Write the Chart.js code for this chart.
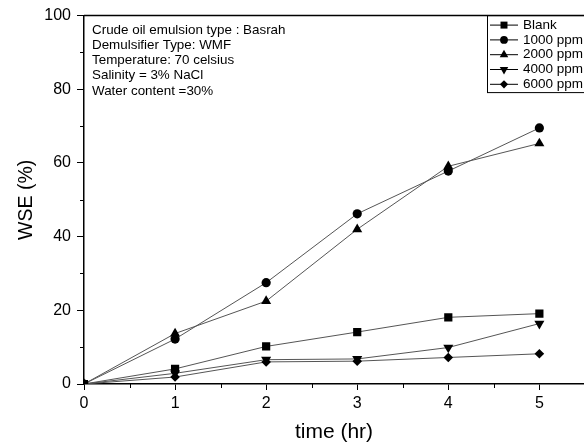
<!DOCTYPE html>
<html>
<head>
<meta charset="utf-8">
<script src="https://cdn.jsdelivr.net/npm/chart.js@4"></script>
<style>
  body { margin: 0; background: #fff; }
  #wrap { width: 584px; height: 443px; }
</style>
</head>
<body>
<div id="wrap"><canvas id="wseChart"></canvas></div>
<script>
// data
var times = [0, 1, 2, 3, 4, 5];
var blank = [0, 4.1, 10.2, 14.1, 18.1, 19.1];
var ppm1000 = [0, 12.2, 27.5, 46.2, 57.8, 69.5];
var ppm2000 = [0, 13.7, 22.5, 42.0, 59.1, 65.3];
var ppm4000 = [0, 2.9, 6.6, 6.8, 9.9, 16.4];
var ppm6000 = [0, 1.9, 6.0, 6.2, 7.2, 8.2];
var xTicks = [0, 1, 2, 3, 4, 5];
var yTicks = [0, 20, 40, 60, 80, 100];
var seriesNames = ['Blank', '1000 ppm', '2000 ppm', '4000 ppm', '6000 ppm'];
var notes = [
  'Crude oil emulsion type : Basrah',
  'Demulsifier Type: WMF',
  'Temperature: 70 celsius',
  'Salinity = 3% NaCl',
  'Water content =30%'
];

var font = "'Liberation Sans', Arial, sans-serif";

function pts(vals) {
  return vals.map(function (v, i) { return { x: times[i], y: v }; });
}

var markers = [
  { style: 'rect', radius: 5.8, rotation: 0 },
  { style: 'circle', radius: 4.6, rotation: 0 },
  { style: 'triangle', radius: 5.8, rotation: 0 },
  { style: 'triangle', radius: 5.8, rotation: 180 },
  { style: 'rectRot', radius: 4.8, rotation: 0 }
];
var allVals = [blank, ppm1000, ppm2000, ppm4000, ppm6000];

var datasets = allVals.map(function (vals, i) {
  return {
    label: seriesNames[i],
    data: pts(vals),
    borderColor: '#555',
    borderWidth: 1,
    backgroundColor: '#000',
    pointBackgroundColor: '#000',
    pointBorderColor: '#000',
    pointBorderWidth: 0,
    pointStyle: markers[i].style,
    pointRadius: markers[i].radius,
    pointRotation: markers[i].rotation,
    tension: 0,
    fill: false
  };
});

// frame top line, minor ticks, legend box and the note text
var extras = {
  id: 'extras',
  afterDraw: function (chart) {
    var ctx = chart.ctx;
    var a = chart.chartArea;
    var xs = chart.scales.x, ys = chart.scales.y;
    ctx.save();
    ctx.strokeStyle = '#000';
    ctx.lineWidth = 1.5;
    ctx.beginPath();
    ctx.moveTo(a.left, a.top);
    ctx.lineTo(a.right, a.top);
    ctx.stroke();

    // minor ticks, half way between the labelled ones
    ctx.lineWidth = 1;
    ctx.beginPath();
    for (var i = 0; i < yTicks.length - 1; i++) {
      var py = Math.round(ys.getPixelForValue((yTicks[i] + yTicks[i + 1]) / 2)) + 0.5;
      ctx.moveTo(a.left, py);
      ctx.lineTo(a.left - 4, py);
    }
    for (var j = 0; j < xTicks.length; j++) {
      var px = Math.round(xs.getPixelForValue(xTicks[j] + 0.5)) + 0.5;
      ctx.moveTo(px, a.bottom);
      ctx.lineTo(px, a.bottom + 4);
    }
    ctx.stroke();

    // notes
    ctx.fillStyle = '#000';
    ctx.font = '13.4px ' + font;
    ctx.textBaseline = 'middle';
    ctx.textAlign = 'left';
    notes.forEach(function (n, k) {
      ctx.fillText(n, 92, 30.5 + k * 15.1);
    });

    // legend
    var lx = 487, ly = a.top, lw = 100, lh = 77;
    ctx.strokeStyle = '#000';
    ctx.lineWidth = 1;
    ctx.strokeRect(lx + 0.5, ly, lw, lh);
    ctx.font = '13.5px ' + font;
    chart.data.datasets.forEach(function (ds, k) {
      var cy = ly + 9.5 + k * 14.8;
      ctx.strokeStyle = '#000';
      ctx.lineWidth = 1;
      ctx.beginPath();
      ctx.moveTo(lx + 3, cy);
      ctx.lineTo(lx + 31, cy);
      ctx.stroke();
      ctx.fillStyle = '#000';
      Chart.helpers.drawPoint(ctx, {
        pointStyle: ds.pointStyle,
        radius: ds.pointRadius * 0.85,
        rotation: ds.pointRotation,
        borderWidth: 0
      }, lx + 17, cy);
      ctx.fillStyle = '#000';
      ctx.fillText(ds.label, lx + 36, cy);
    });
    ctx.restore();
  }
};

new Chart(document.getElementById('wseChart'), {
  type: 'line',
  data: { datasets: datasets },
  plugins: [extras],
  options: {
    responsive: true,
    maintainAspectRatio: false,
    animation: false,
    layout: { autoPadding: false, padding: { top: 15, right: 0, left: 0, bottom: 0 } },
    plugins: { legend: { display: false }, tooltip: { enabled: false } },
    scales: {
      x: {
        type: 'linear',
        min: 0,
        max: 5.49,
        afterFit: function (s) { s.height = 59; },
        afterBuildTicks: function (s) { s.ticks = xTicks.map(function (v) { return { value: v }; }); },
        ticks: {
          autoSkip: false,
          color: '#000',
          padding: 4,
          font: { family: font, size: 16 }
        },
        grid: { drawOnChartArea: false, tickLength: 6, tickColor: '#000', tickWidth: 1 },
        border: { color: '#000', width: 1.5 },
        title: {
          display: true,
          text: 'time (hr)',
          color: '#000',
          padding: { top: 0, bottom: 0 },
          font: { family: font, size: 21, lineHeight: 1 }
        }
      },
      y: {
        min: 0,
        max: 100,
        afterFit: function (s) { s.width = 84; },
        afterBuildTicks: function (s) { s.ticks = yTicks.map(function (v) { return { value: v }; }); },
        ticks: {
          color: '#000',
          padding: 6,
          font: { family: font, size: 16 }
        },
        grid: { drawOnChartArea: false, tickLength: 7, tickColor: '#000', tickWidth: 1 },
        border: { color: '#000', width: 1.5 },
        title: {
          display: true,
          text: 'WSE (%)',
          color: '#000',
          padding: { top: 15, bottom: 0 },
          font: { family: font, size: 19.5 }
        }
      }
    }
  }
});
</script>
</body>
</html>
